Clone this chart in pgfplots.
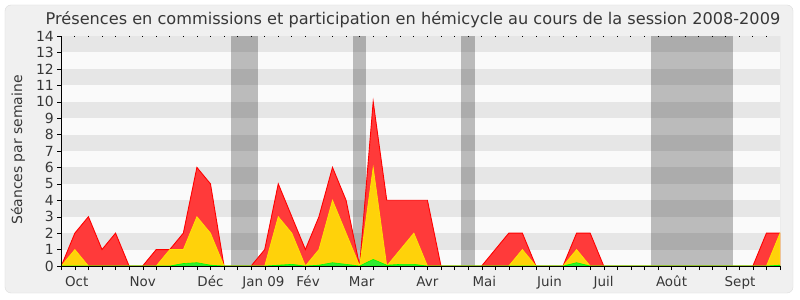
\documentclass[border=0pt]{standalone}
\usepackage{fontspec}
\setmainfont{DejaVu Sans}
\usepackage{pgfplots}
\usepackage{pgfplotstable}
\pgfplotsset{compat=1.18}
\definecolor{bgbox}{RGB}{240,240,240}
\definecolor{boxline}{RGB}{220,220,220}
\definecolor{stripeD}{RGB}{230,230,230}
\definecolor{stripeL}{RGB}{250,250,250}
\definecolor{redF}{RGB}{255,58,58}
\definecolor{redL}{RGB}{255,0,0}
\definecolor{yelF}{RGB}{255,210,10}
\definecolor{yelL}{RGB}{255,230,0}
\definecolor{grnF}{RGB}{50,235,50}
\definecolor{grnL}{RGB}{0,255,0}
\definecolor{txt}{RGB}{55,55,55}
\pgfplotstableread{
x red yellow green
0 0 0 0
1 2 1 0
2 3 0 0
3 1 0 0
4 2 0 0
5 0 0 0
6 0 0 0
7 1 0 0
8 1 1 0
9 2 1 0.15
10 6 3 0.2
11 5 2 0.05
12 0 0 0
13 0 0 0
14 0 0 0
15 1 0 0
16 5 3 0.05
17 3 2 0.1
18 1 0 0
19 3 1 0.05
20 6 4 0.2
21 4 2 0.1
22 0 0 0
23 10 6 0.4
24 4 0 0.05
25 4 1 0.1
26 4 2 0.1
27 4 0 0
28 0 0 0
29 0 0 0
30 0 0 0
31 0 0 0
32 1 0 0
33 2 0 0
34 2 1 0
35 0 0 0
36 0 0 0
37 0 0 0
38 2 1 0.2
39 2 0 0
40 0 0 0
41 0 0 0
42 0 0 0
43 0 0 0
44 0 0 0
45 0 0 0
46 0 0 0
47 0 0 0
48 0 0 0
49 0 0 0
50 0 0 0
51 0 0 0
52 2 0 0
53 2 2 0.05
}\data
\begin{document}
\begin{tikzpicture}
\path[use as bounding box, fill=white] (-61.3bp,-34bp) rectangle (738.7bp,266bp);
\draw[fill=bgbox, draw=boxline, rounded corners=6bp] (-56.3bp,-27bp) rectangle (731.7bp,261bp);
\node[anchor=base, font=\fontsize{16.2}{18}\selectfont, text=txt] at (351.7bp,241bp) {Présences en commissions et participation en hémicycle au cours de la session 2008-2009};
\node[rotate=90, font=\fontsize{14}{16}\selectfont, text=txt] at (-43.3bp,116bp) {Séances par semaine};
\begin{axis}[
  scale only axis, width=718.7bp, height=230bp,
  xmin=0, xmax=53, ymin=0, ymax=14,
  axis on top,
  axis x line=bottom, axis y line=left,
  axis line style={-, black},
  axis background/.style={fill=stripeL},
  ytick={0,1,...,14},
  ytick align=outside, ytick style={black}, major tick length=4bp,
  yticklabel style={font=\fontsize{14}{16}\selectfont, text=txt},
  xtick={1.14,6,11,14.9,18.2,22.15,27,31.2,36,40,45,50.05},
  xticklabels={Oct,Nov,Déc,Jan 09,Fév,Mar,Avr,Mai,Juin,Juil,Août,Sept},
  xtick style={draw=none},
  xticklabel style={font=\fontsize{13.5}{15}\selectfont, text=txt, anchor=base, yshift=-18bp},
  extra x ticks={0,1,...,53},
  extra x tick labels={},
  extra x tick style={xtick style={draw=black}, tick align=outside},
  /pgf/number format/assume math mode=true,
  clip=true,
]
\pgfplotsinvokeforeach{1,3,5,7,9,11,13}{
  \fill[stripeD] (axis cs:0,#1) rectangle (axis cs:53,#1+1);
}
\addplot[draw=none, fill=black, fill opacity=0.25] coordinates {(12.5,0) (12.5,14) (14.5,14) (14.5,0)} -- cycle;
\addplot[draw=none, fill=black, fill opacity=0.25] coordinates {(21.5,0) (21.5,14) (22.5,14) (22.5,0)} -- cycle;
\addplot[draw=none, fill=black, fill opacity=0.25] coordinates {(29.5,0) (29.5,14) (30.5,14) (30.5,0)} -- cycle;
\addplot[draw=none, fill=black, fill opacity=0.25] coordinates {(43.5,0) (43.5,14) (49.5,14) (49.5,0)} -- cycle;
\addplot[draw=redL, line width=0.9bp, fill=redF] table[x=x, y=red] {\data} \closedcycle;
\addplot[draw=yelL, line width=0.7bp, fill=yelF] table[x=x, y=yellow] {\data} \closedcycle;
\addplot[draw=grnL, line width=0.6bp, fill=grnF] table[x=x, y=green] {\data} \closedcycle;
\draw[gray!40] (rel axis cs:1,0) -- (rel axis cs:1,1);
\end{axis}
\begin{axis}[
  scale only axis, width=718.7bp, height=230bp,
  xmin=0, xmax=53, ymin=0, ymax=14,
  hide y axis,
  axis x line=top, x axis line style={draw=none},
  xtick={1,2,...,52}, xticklabels={},
  tick align=inside, major tick length=1.5bp,
  xtick style={black, line width=0.8bp},
]
\end{axis}
\end{tikzpicture}
\end{document}
